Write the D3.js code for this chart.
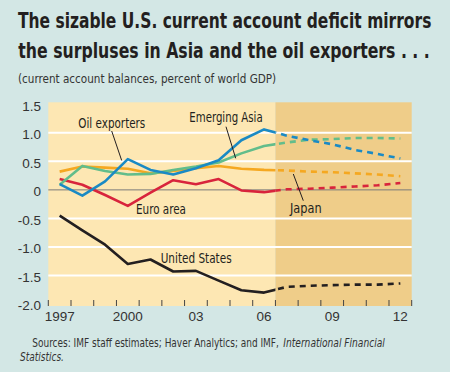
<!DOCTYPE html>
<html>
<head>
<meta charset="utf-8">
<script src="https://cdn.jsdelivr.net/npm/d3@7"></script>
<style>
  html, body { margin: 0; padding: 0; background: #D3E7E5; }
  svg { display: block; }
  text { font-family: "Liberation Sans Narrow", "DejaVu Sans Condensed", "Liberation Sans", Arial, sans-serif; }
</style>
</head>
<body>
<svg id="chart" width="450" height="372"></svg>
<script>
// ---- data ----
const years = [1997, 1998, 1999, 2000, 2001, 2002, 2003, 2004, 2005, 2006, 2007, 2008, 2009, 2010, 2011, 2012];
const lastActualYear = 2006;
const unitedStates = [-0.45, -0.71, -0.96, -1.30, -1.22, -1.43, -1.42, -1.59, -1.76, -1.80, -1.70, -1.68, -1.67, -1.66, -1.66, -1.64];
const oilExporters = [0.10, -0.10, 0.15, 0.54, 0.35, 0.27, 0.38, 0.52, 0.87, 1.06, 0.95, 0.87, 0.80, 0.70, 0.63, 0.55];
const emergingAsia = [0.09, 0.42, 0.33, 0.27, 0.28, 0.35, 0.41, 0.48, 0.64, 0.77, 0.83, 0.88, 0.89, 0.91, 0.91, 0.90];
const japan        = [0.32, 0.41, 0.39, 0.37, 0.29, 0.33, 0.38, 0.42, 0.37, 0.35, 0.34, 0.32, 0.31, 0.29, 0.27, 0.24];
const euroArea     = [0.19, 0.09, -0.09, -0.28, -0.05, 0.17, 0.10, 0.19, -0.01, -0.04, 0.01, 0.02, 0.04, 0.06, 0.08, 0.12];
const yTicks = [1.5, 1.0, 0.5, 0, -0.5, -1.0, -1.5, -2.0];
const yTickLabels = ["1.5", "1.0", "0.5", "0", "-0.5", "-1.0", "-1.5", "-2.0"];
const xTickYears = [1997, 2000, 2003, 2006, 2009, 2012];
const xTickLabels = ["1997", "2000", "03", "06", "09", "12"];

// ---- layout ----
const svg = d3.select("#chart");
const W = 450, H = 372;
const plotLeft = 48.3, plotRight = 411.7, plotTop = 102.3, plotBottom = 306;

const x = d3.scaleLinear().domain([1996.5, 2012.5]).range([plotLeft, plotRight]);
const y = d3.scaleLinear().domain([-2, 1.5]).range([304, 104.3]);

svg.append("rect").attr("width", W).attr("height", H).attr("fill", "#D3E7E5");

// text fitted horizontally to a target width via transform
function fitText(parent, txt, tx, ty, width, attrs) {
  const t = parent.append("text").attr("x", 0).attr("y", 0).text(txt);
  Object.entries(attrs || {}).forEach(([k, v]) => t.attr(k, v));
  const natural = t.node().getComputedTextLength();
  const k = natural > 0 ? width / natural : 1;
  t.attr("transform", `translate(${tx},${ty}) scale(${k},1)`);
  return t;
}

// Title
fitText(svg, "The sizable U.S. current account deficit mirrors", 18, 28.3, 413.5,
  { "font-size": 22, "font-weight": "bold", "fill": "#231F20" });
fitText(svg, "the surpluses in Asia and the oil exporters . . .", 18.3, 57.5, 411.7,
  { "font-size": 22, "font-weight": "bold", "fill": "#231F20" });
fitText(svg, "(current account balances, percent of world GDP)", 18, 82.7, 258.5,
  { "font-size": 12.5, "fill": "#333" });

// Plot backgrounds
svg.append("rect").attr("x", x(1996.5)).attr("y", plotTop)
  .attr("width", x(lastActualYear + 0.5) - x(1996.5)).attr("height", plotBottom - plotTop)
  .attr("fill", "#FDE7B3");
svg.append("rect").attr("x", x(lastActualYear + 0.5)).attr("y", plotTop)
  .attr("width", x(2012.5) - x(lastActualYear + 0.5)).attr("height", plotBottom - plotTop)
  .attr("fill", "#EFCD89");

// Gridlines
const grid = svg.append("g");
yTicks.filter(v => v !== 0 && v !== 1.5 && v !== -2.0).forEach(v => {
  grid.append("line").attr("x1", plotLeft).attr("x2", plotRight)
    .attr("y1", y(v)).attr("y2", y(v)).attr("stroke", "#fff").attr("stroke-width", 2);
});
grid.append("line").attr("x1", plotLeft).attr("x2", plotRight)
  .attr("y1", y(0)).attr("y2", y(0)).attr("stroke", "#7a7a7a").attr("stroke-width", 1);

// x ticks at year boundaries
const bounds = d3.range(1996.5, 2013, 1);
svg.append("g").selectAll("line").data(bounds).join("line")
  .attr("x1", d => x(d)).attr("x2", d => x(d))
  .attr("y1", plotBottom - 6).attr("y2", plotBottom)
  .attr("stroke", "#444").attr("stroke-width", 1);

// y tick labels
svg.append("g").selectAll("text").data(yTicks).join("text")
  .attr("x", 41).attr("y", d => y(d) + 6.3)
  .attr("text-anchor", "end").attr("font-size", 13.5).attr("fill", "#333")
  .style("font-family", "'Liberation Sans', Arial, sans-serif")
  .text((d, i) => yTickLabels[i]);

// x tick labels
svg.append("g").selectAll("text").data(xTickYears).join("text")
  .attr("x", d => x(d)).attr("y", 321)
  .attr("text-anchor", "middle").attr("font-size", 13.5).attr("fill", "#333")
  .style("font-family", "'Liberation Sans', Arial, sans-serif")
  .text((d, i) => xTickLabels[i]);

// clip paths for actual (solid) vs forecast (dashed)
const defs = svg.append("defs");
defs.append("clipPath").attr("id", "clipActual").append("rect")
  .attr("x", 0).attr("y", 0).attr("width", x(lastActualYear + 0.5)).attr("height", H);
defs.append("clipPath").attr("id", "clipForecast").append("rect")
  .attr("x", x(lastActualYear + 0.5)).attr("y", 0).attr("width", W).attr("height", H);

const series = [
  { name: "Euro area", values: euroArea, color: "#D8243C" },
  { name: "Japan", values: japan, color: "#F5A821" },
  { name: "Emerging Asia", values: emergingAsia, color: "#62BD8B" },
  { name: "Oil exporters", values: oilExporters, color: "#1A8AC4" },
  { name: "United States", values: unitedStates, color: "#231F20" }
];

const line = d3.line().x(d => x(d[0])).y(d => y(d[1]));
const lines = svg.append("g");
series.forEach(s => {
  const pts = years.map((yr, i) => [yr, s.values[i]]);
  lines.append("path").attr("d", line(pts))
    .attr("fill", "none").attr("stroke", s.color).attr("stroke-width", 2.6)
    .attr("stroke-linejoin", "round")
    .attr("clip-path", "url(#clipActual)");
  lines.append("path").attr("d", line(pts))
    .attr("fill", "none").attr("stroke", s.color).attr("stroke-width", 2.6)
    .attr("stroke-dasharray", "6,5")
    .attr("clip-path", "url(#clipForecast)");
});

// Labels with pointers
const labels = svg.append("g");
const labAttrs = { "font-size": 14.5, "fill": "#231F20" };
function pointer(x1, y1, x2, y2) {
  svg.append("line").attr("x1", x1).attr("y1", y1).attr("x2", x2).attr("y2", y2)
    .attr("stroke", "#231F20").attr("stroke-width", 1);
}
fitText(labels, "Oil exporters", 78.3, 128, 67, labAttrs);
pointer(111.7, 131, 121.7, 160.5);
fitText(labels, "Emerging Asia", 189.3, 121.5, 73.4, labAttrs);
pointer(226, 126.7, 235.7, 158.3);
fitText(labels, "Euro area", 136, 214, 50, labAttrs);
fitText(labels, "Japan", 290, 213.3, 31.7, labAttrs);
pointer(293.3, 174, 303.3, 200.7);
fitText(labels, "United States", 160.7, 263.3, 71, labAttrs);

// Sources
const src = svg.append("g");
fitText(src, "Sources: IMF staff estimates; Haver Analytics; and IMF,", 32.3, 346.7, 247,
  { "font-size": 12, "fill": "#333" });
fitText(src, "International Financial", 283.3, 346.7, 101.7,
  { "font-size": 12, "fill": "#333", "font-style": "italic" });
fitText(src, "Statistics.", 20, 360.7, 44,
  { "font-size": 12, "fill": "#333", "font-style": "italic" });
</script>
</body>
</html>
